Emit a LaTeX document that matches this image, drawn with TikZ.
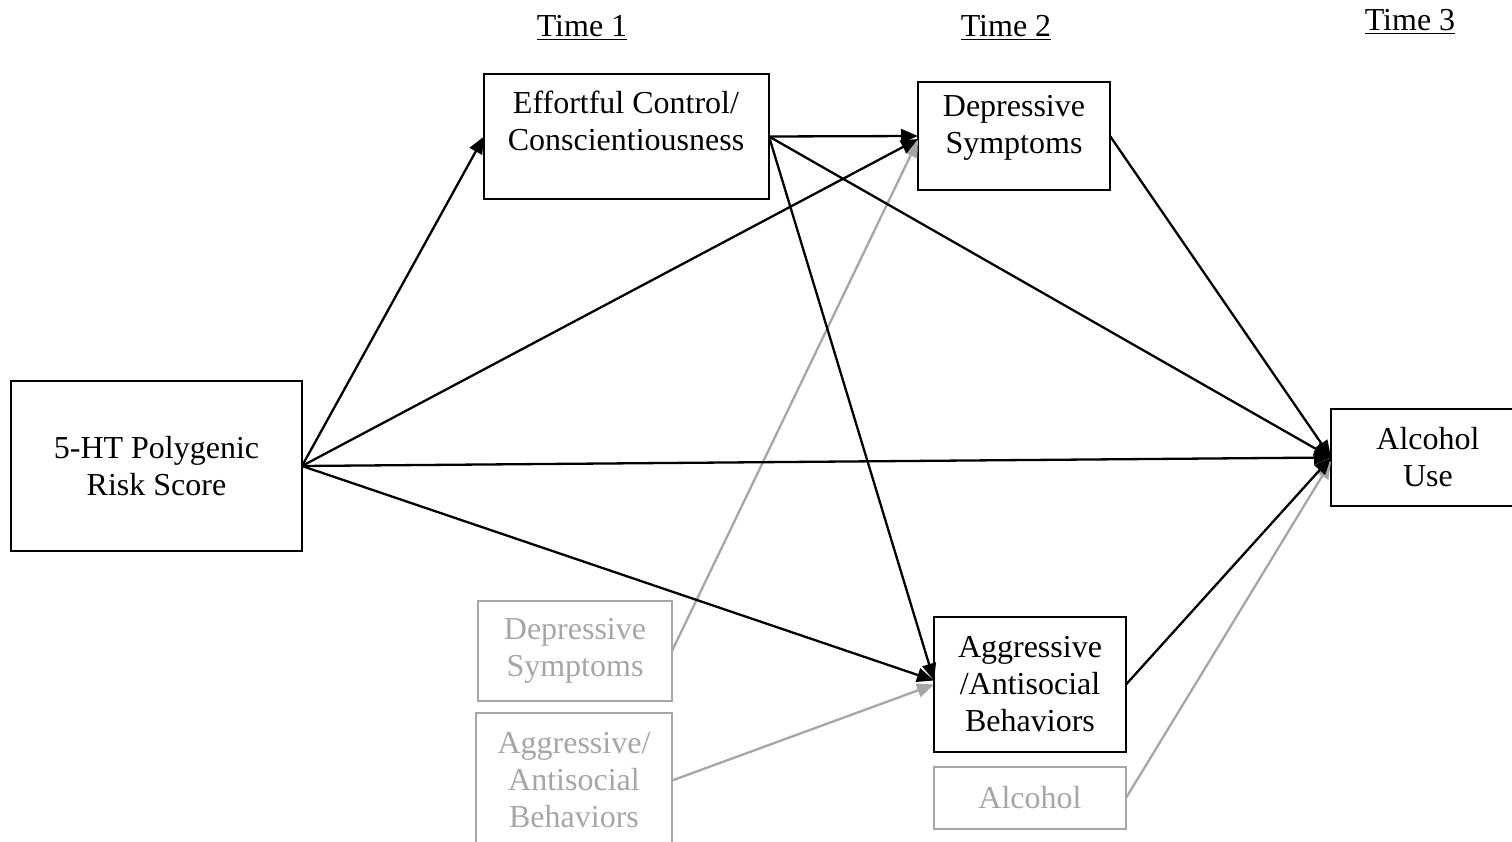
\documentclass[tikz,border=0pt]{standalone}
\usepackage{fontspec}
\setmainfont{Liberation Serif}
\usetikzlibrary{arrows.meta}
\definecolor{lg}{RGB}{166,166,166}
\begin{document}
\begin{tikzpicture}[x=1pt,y=-1pt,
  box/.style={draw, line width=2.4pt, inner sep=0pt, outer sep=0pt, align=center,
    font=\fontsize{32}{37}\selectfont},
  gbox/.style={box, draw=lg, text=lg, line width=2.2pt},
  txt/.style={font=\fontsize{32}{37}\selectfont, align=center, inner sep=0pt},
  arr/.style={line width=2.3pt, -{Triangle[length=17pt,width=14pt]}},
  garr/.style={arr, draw=lg, -{Triangle[length=17pt,width=14pt,fill=lg]}}]
\useasboundingbox (0,0) rectangle (1512,842);
\begin{scope}
\clip (0,0) rectangle (1512,842);
% time labels
\node[txt, anchor=base] (t1) at (582,37) {\underline{Time 1}};
\node[txt, anchor=base] (t2) at (1006,37) {\underline{Time 2}};
\node[txt, anchor=base] (t3) at (1410,31) {\underline{Time 3}};
% black boxes
\node[box, minimum width=291pt, minimum height=170pt] (PRS) at (156.5,466) {5-HT Polygenic\\Risk Score};
\node[box, minimum width=285pt, minimum height=125pt] (EC) at (626.5,136.5) {};
\node[txt] (ECt) at (626,121) {Effortful Control/\\Conscientiousness};
\node[box, minimum width=192pt, minimum height=108pt] (DS) at (1014,136) {};
\node[txt] (DSt) at (1014,128) {Depressive\\Symptoms};
\node[box, minimum width=192pt, minimum height=135pt] (AAB) at (1030,684.5) {Aggressive\\/Antisocial\\Behaviors};
\node[box, minimum width=194pt, minimum height=97pt] (AU) at (1428,457.5) {Alcohol\\Use};
% grey boxes
\node[gbox, minimum width=194pt, minimum height=100pt] (gDS) at (575,651) {Depressive\\Symptoms};
\node[gbox, minimum width=196pt, minimum height=135pt] (gAAB) at (574,780.5) {Aggressive/\\Antisocial\\Behaviors};
\node[gbox, minimum width=192pt, minimum height=62pt] (gAL) at (1030,798) {Alcohol};
% grey arrows
\draw[garr] (gDS.east) -- ([yshift=-4pt]DS.west);
\draw[garr] (gAAB.east) -- (AAB.west);
\draw[garr] (gAL.east) -- ([yshift=-4pt]AU.west);
% black arrows
\draw[arr] (PRS.east) -- (EC.west);
\draw[arr] (PRS.east) -- ([yshift=-3pt]DS.west);
\draw[arr] (PRS.east) -- (AU.west);
\draw[arr] (PRS.east) -- ([yshift=4pt]AAB.west);
\draw[arr] (EC.east) -- (DS.west);
\draw[arr] (EC.east) -- (AU.west);
\draw[arr] (EC.east) -- ([yshift=4pt]AAB.west);
\draw[arr] (DS.east) -- (AU.west);
\draw[arr] (AAB.east) -- (AU.west);
\end{scope}
\end{tikzpicture}
\end{document}
